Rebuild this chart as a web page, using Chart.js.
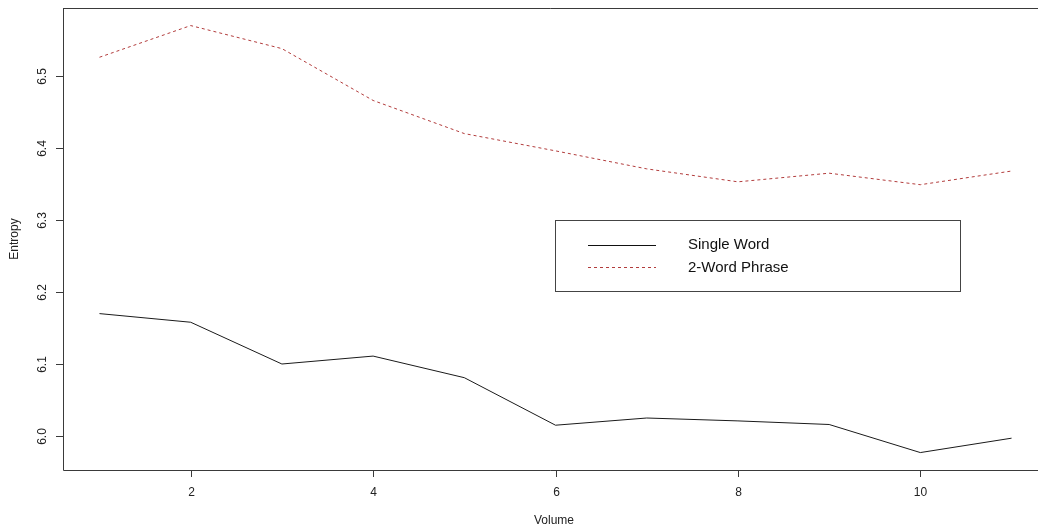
<!DOCTYPE html>
<html>
<head>
<meta charset="utf-8">
<script src="https://cdn.jsdelivr.net/npm/chart.js@4"></script>
<style>
  html, body { margin: 0; padding: 0; background: #fff; overflow: hidden; }
  canvas { display: block; }
</style>
</head>
<body>
<canvas id="entropyChart" width="1038" height="532"></canvas>
<script>
    const volumes = [1, 2, 3, 4, 5, 6, 7, 8, 9, 10, 11];
    const singleWord = [6.170, 6.158, 6.100, 6.111, 6.081, 6.015, 6.025, 6.021, 6.016, 5.977, 5.997];
    const twoWordPhrase = [6.526, 6.570, 6.538, 6.466, 6.420, 6.396, 6.371, 6.353, 6.365, 6.349, 6.368];
    const xTicks = [2, 4, 6, 8, 10];
    const yTicks = [6.0, 6.1, 6.2, 6.3, 6.4, 6.5];
    const seriesNames = ["Single Word", "2-Word Phrase"];

    const font = '"Liberation Sans", Arial, sans-serif';
    const axisColor = '#3a3a3a';
    const redColor = '#b23c3c';

    function toPoints(values) {
        return volumes.map(function(v, i) { return { x: v, y: values[i] }; });
    }

    // R style axes, box and legend drawn on top of the chart
    const rStylePlugin = {
        id: 'rStyle',
        afterDraw: function(chart) {
            const c = chart.ctx;
            const area = chart.chartArea;
            const xs = chart.scales.x;
            const ys = chart.scales.y;
            c.save();
            c.strokeStyle = axisColor;
            c.lineWidth = 1;
            c.beginPath();
            c.moveTo(area.left + 0.5, area.top + 0.5);
            c.lineTo(area.right, area.top + 0.5);
            c.moveTo(area.left + 0.5, area.top);
            c.lineTo(area.left + 0.5, area.bottom + 0.5);
            c.lineTo(area.right, area.bottom + 0.5);
            c.stroke();

            c.fillStyle = '#222';
            c.font = '12px ' + font;

            // x ticks
            c.textAlign = 'center';
            c.textBaseline = 'middle';
            xTicks.forEach(function(t) {
                const px = Math.round(xs.getPixelForValue(t)) + 0.5;
                c.beginPath();
                c.moveTo(px, area.bottom);
                c.lineTo(px, area.bottom + 7);
                c.stroke();
                c.fillText(String(t), px, area.bottom + 23);
            });

            // y ticks, labels rotated like R
            yTicks.forEach(function(t) {
                const py = Math.round(ys.getPixelForValue(t)) + 0.5;
                c.beginPath();
                c.moveTo(area.left, py);
                c.lineTo(area.left - 7, py);
                c.stroke();
                c.save();
                c.translate(area.left - 20, py);
                c.rotate(-Math.PI / 2);
                c.fillText(t.toFixed(1), 0, 0);
                c.restore();
            });

            // axis titles
            c.fillText('Volume', 554, 521);
            c.save();
            c.translate(15, (area.top + area.bottom) / 2);
            c.rotate(-Math.PI / 2);
            c.fillText('Entropy', 0, 0);
            c.restore();

            // legend box
            c.strokeStyle = '#444';
            c.strokeRect(555.5, 220.5, 405, 71);
            c.strokeStyle = '#111';
            c.beginPath();
            c.moveTo(588, 245.5);
            c.lineTo(656, 245.5);
            c.stroke();
            c.strokeStyle = redColor;
            c.setLineDash([3, 3]);
            c.beginPath();
            c.moveTo(588, 267.5);
            c.lineTo(656, 267.5);
            c.stroke();
            c.setLineDash([]);
            c.fillStyle = '#111';
            c.font = '15px ' + font;
            c.textAlign = 'left';
            c.fillText(seriesNames[0], 688, 245);
            c.fillText(seriesNames[1], 688, 268);
            c.restore();
        }
    };

    const ctx = document.getElementById('entropyChart').getContext('2d');
    const chart = new Chart(ctx, {
        type: 'line',
        data: {
            datasets: [{
                label: seriesNames[0],
                data: toPoints(singleWord),
                borderColor: '#1a1a1a',
                borderWidth: 1,
                pointRadius: 0,
                tension: 0
            }, {
                label: seriesNames[1],
                data: toPoints(twoWordPhrase),
                borderColor: redColor,
                borderWidth: 1,
                borderDash: [3, 3],
                pointRadius: 0,
                tension: 0
            }]
        },
        options: {
            responsive: false,
            animation: false,
            layout: { padding: { left: 63, top: 8, right: 0, bottom: 62 } },
            plugins: { legend: { display: false }, tooltip: { enabled: false } },
            scales: {
                x: { type: 'linear', min: 0.6, max: 11.29, display: false },
                y: { type: 'linear', min: 5.9528, max: 6.5944, display: false }
            }
        },
        plugins: [rStylePlugin]
    });
</script>
</body>
</html>
